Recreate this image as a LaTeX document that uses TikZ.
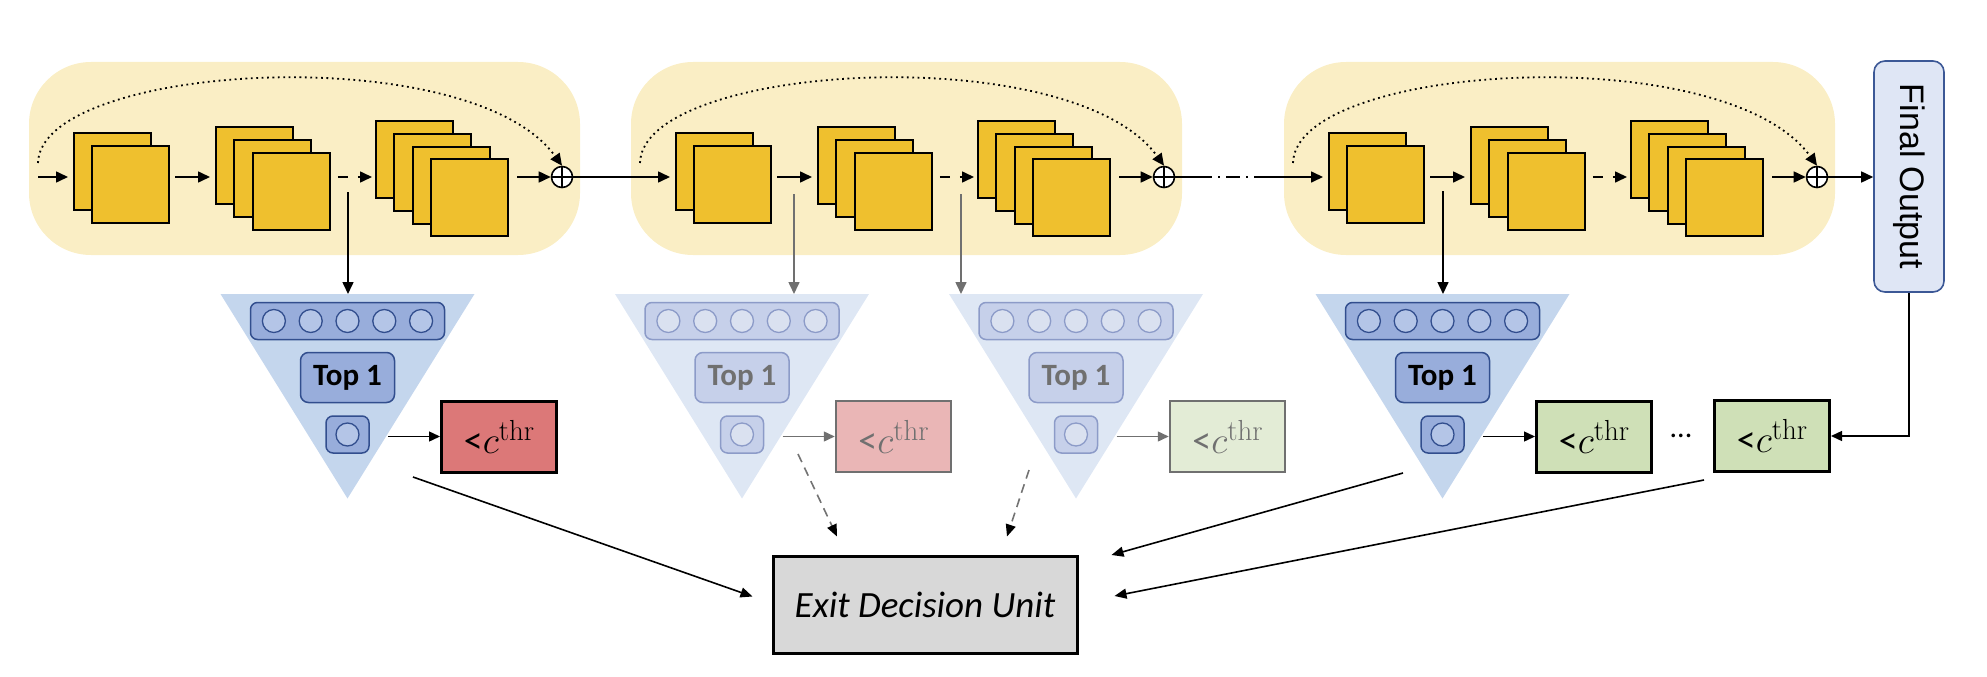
\RequirePackage{fix-cm}
\documentclass[tikz,border=0pt]{standalone}
\usepackage{graphicx}
\usepackage{fontspec}
\usetikzlibrary{arrows.meta,calc}
\newfontfamily\carlito{Carlito}
\newfontfamily\lsans{Liberation Sans}
\definecolor{blockbg}{RGB}{250,238,197}
\definecolor{fmapfill}{RGB}{239,192,46}
\definecolor{tri}{RGB}{196,214,237}
\definecolor{triF}{RGB}{222,231,244}
\definecolor{rowfill}{RGB}{152,173,219}
\definecolor{rowdraw}{RGB}{50,78,142}
\definecolor{rowfillF}{RGB}{198,208,234}
\definecolor{rowdrawF}{RGB}{140,155,200}
\definecolor{neufill}{RGB}{180,197,231}
\definecolor{neufillF}{RGB}{218,225,240}
\definecolor{txtF}{RGB}{112,112,112}
\definecolor{thrred}{RGB}{220,120,120}
\definecolor{thrredF}{RGB}{234,182,182}
\definecolor{thrgreen}{RGB}{207,224,183}
\definecolor{thrgreenF}{RGB}{227,236,214}
\definecolor{edufill}{RGB}{216,216,216}
\definecolor{outfill}{RGB}{223,230,245}
\definecolor{outdraw}{RGB}{60,88,150}
\tikzset{
  arr/.style={line width=1.6pt,-{Triangle[length=12pt,width=11pt]}},
  arrF/.style={arr,draw=txtF},
  harr/.style={line width=1.4pt,-{Triangle[length=11pt,width=10pt]}},
  harrF/.style={harr,draw=txtF},
  earr/.style={line width=1.6pt,-{Triangle[length=12pt,width=10pt]}},
  earrD/.style={earr,dash pattern=on 9pt off 6pt,draw=black!55,-{Triangle[length=12pt,width=10pt,color=black]}},
  skipline/.style={line width=1.8pt,dash pattern=on 1.8pt off 3.6pt,-{Triangle[length=12pt,width=11pt]}},
  fmap/.style={draw,line width=2pt,fill=fmapfill,minimum size=77pt,inner sep=0pt,anchor=north west},
  addnode/.style={circle,draw,fill=white,line width=1.6pt,minimum size=21pt,inner sep=0pt,
    path picture={\draw[line width=1.3pt] (path picture bounding box.north) -- (path picture bounding box.south)
      (path picture bounding box.west) -- (path picture bounding box.east);}},
  fcrow/.style={draw=rowdraw,fill=rowfill,line width=1.5pt,rounded corners=7pt,minimum width=194pt,minimum height=37pt,inner sep=0pt},
  fcrowF/.style={fcrow,draw=rowdrawF,fill=rowfillF},
  neuron/.style={circle,draw=rowdraw,fill=neufill,line width=1.3pt,minimum size=23pt,inner sep=0pt},
  neuronF/.style={neuron,draw=rowdrawF,fill=neufillF},
  topbox/.style={draw=rowdraw,fill=rowfill,line width=1.5pt,rounded corners=8pt,minimum width=94pt,minimum height=50pt,inner sep=0pt,
    font=\carlito\bfseries\fontsize{31}{37}\selectfont},
  topboxF/.style={topbox,draw=rowdrawF,fill=rowfillF,text=txtF},
  outbox/.style={draw=rowdraw,fill=rowfill,line width=1.5pt,rounded corners=7pt,minimum width=43pt,minimum height=37pt,inner sep=0pt},
  outboxF/.style={outbox,draw=rowdrawF,fill=rowfillF},
  thr/.style={draw,line width=3pt,minimum width=115pt,minimum height=71pt,inner sep=0pt,font=\fontsize{38}{44}\selectfont},
  thrF/.style={thr,draw=txtF,text=txtF,line width=2.5pt},
  edu/.style={draw,line width=3pt,fill=edufill,minimum width=304pt,minimum height=97pt,font=\carlito\itshape\fontsize{37}{44}\selectfont},
  fout/.style={draw=outdraw,fill=outfill,line width=1.6pt,rounded corners=11pt,minimum width=70pt,minimum height=231pt,inner sep=0pt,
    font=\lsans\fontsize{34}{40}\selectfont}
}
\newcommand{\thrtext}{{\carlito<}$c$\raisebox{13pt}{\fontsize{29}{34}\selectfont thr}}
% stack of #4 feature maps, back map top-left at (#2,#3)
\newcommand{\fmapStack}[4]{
  \foreach \k in {1,...,#4}
    \node[fmap] (#1-\k) at ({#2+(\k-1)*18.4},{#3+(\k-1)*12.8}) {};
}
% residual stage: three stacks, add node and dotted shortcut
\newcommand{\resBlock}[2]{
  \begin{scope}[xshift=#2pt]
    \fill[blockbg,rounded corners=62pt] (29,62) rectangle (580,255);
    \fmapStack{#1a}{73}{132}{2}
    \fmapStack{#1b}{215}{126}{3}
    \fmapStack{#1c}{375}{120}{4}
    \node[addnode] (#1p) at (562,177) {};
    \coordinate (#1in) at (38,177);
    \coordinate (#1sk) at (38,163);
  \end{scope}
  \draw[arr] (#1in) -- ($(#1a-1.west |- #1p)+(-5,0)$);
  \draw[arr] ($(#1a-2.east |- #1p)+(5,0)$) -- ($(#1b-1.west |- #1p)+(-5,0)$);
  \draw[arr,dash pattern=on 10pt off 10pt on 2pt off 20pt] ($(#1b-3.east |- #1p)+(7,0)$) -- ($(#1c-1.west |- #1p)+(-3,0)$);
  \draw[arr] ($(#1c-4.east |- #1p)+(8,0)$) -- (#1p.west);
  \draw[skipline] (#1sk) .. controls +(2,-100) and +(-92,-128) .. (#1p.north);
}
% exit head: #1 name, #2 centre x, #3 variant (empty or F), #4 threshold fill
\newcommand{\exitHead}[4]{
  \fill[tri#3] (#2-127,294) -- (#2+127,294) -- (#2,498.5) -- cycle;
  \coordinate (#1top) at (#2,294);
  \node[fcrow#3] (#1row) at (#2,321) {};
  \foreach \j in {-2,...,2}
    \node[neuron#3] (#1n\j) at ($(#1row)+(\j*36.8,0)$) {};
  \node[topbox#3] (#1top1) at (#2,377.5) {Top 1};
  \node[outbox#3] (#1out) at (#2,434.5) {};
  \node[neuron#3] (#1o) at (#1out) {};
  \node[thr#3,fill=#4] (#1thr) at (#2+151.5,436.5) {\thrtext};
  \coordinate (#1hs) at (#2+40.5,436.5);
  \draw[harr#3] (#1hs) -- (#1thr.west);
}

\begin{document}
\begin{tikzpicture}[x=1pt,y=-1pt]
  \useasboundingbox (0,0) rectangle (1987,677);

  % ================= backbone stages =================
  \resBlock{b1}{0}
  \resBlock{b2}{602}
  \resBlock{b3}{1255}
  \draw[line width=1.6pt] (b1p.east) -- (b2in);
  \draw[line width=1.6pt,dash pattern=on 37pt off 6pt on 2pt off 6pt on 14pt off 6pt on 2pt off 6pt on 300pt] (b2p.east) -- (b3in);

  \node[fout] (fout) at (1909,176.5) {\rotatebox{-90}{Final Output}};
  \draw[arr] (b3p.east) -- (fout.west |- b3p);

  % ================= exit heads =================
  \exitHead{h1}{347.5}{}{thrred}
  \exitHead{h2}{742}{F}{thrredF}
  \exitHead{h3}{1076}{F}{thrgreenF}
  \exitHead{h4}{1442.5}{}{thrgreen}

  \coordinate (br1) at (348,192);
  \coordinate (br2) at (794,194);
  \coordinate (br3) at (961,194);
  \coordinate (br4) at (1443,191);
  \draw[arr] (br1) -- (br1 |- h1top);
  \draw[arrF] (br2) -- (br2 |- h2top);
  \draw[arrF] (br3) -- (br3 |- h3top);
  \draw[arr] (br4) -- (br4 |- h4top);

  \node[font=\carlito\fontsize{30}{36}\selectfont] (dots) at (1681,436) {...};
  \node[thr,fill=thrgreen] (thr5) at (1772,436) {\thrtext};
  \draw[harr] (fout.south) |- (thr5.east);

  % ================= exit decision =================
  \node[edu] (edu) at (925,604.5) {Exit Decision Unit};
  \coordinate (e1s) at (413,477);
  \coordinate (e2s) at (798,454);
  \coordinate (e3s) at (1029,470);
  \coordinate (e4s) at (1403,473);
  \coordinate (e5s) at ($(thr5.south west)+(-9,7)$);
  \coordinate (e1t) at ($(edu.west)+(-19,-8)$);
  \coordinate (e2t) at ($(edu.north)+(-88,-18)$);
  \coordinate (e3t) at ($(edu.north)+(82,-18)$);
  \coordinate (e4t) at ($(edu.east)+(33,-49.5)$);
  \coordinate (e5t) at ($(edu.east)+(36,-8.5)$);
  \draw[earr] (e1s) -- (e1t);
  \draw[earrD] (e2s) -- (e2t);
  \draw[earrD] (e3s) -- (e3t);
  \draw[earr] (e4s) -- (e4t);
  \draw[earr] (e5s) -- (e5t);
\end{tikzpicture}
\end{document}
